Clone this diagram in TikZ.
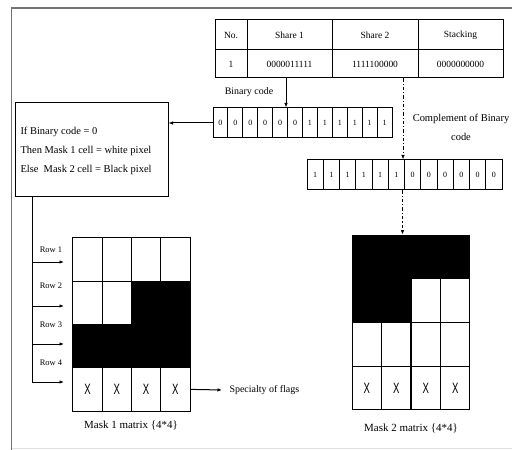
\documentclass[tikz,border=0pt]{standalone}
\usepackage{fontspec}
\setmainfont{Liberation Serif}
\newfontfamily\xfont{Liberation Sans}
\usetikzlibrary{arrows.meta}
\newcommand{\flagx}{\scalebox{0.8}[1.25]{X}}
\begin{document}
\begin{tikzpicture}[x=1bp,y=-1bp,
  line width=1bp,
  arr/.style={-{Latex[length=4.5bp,width=3.5bp]}, line width=1bp},
  dashdot/.style={dash pattern=on 3.5bp off 2bp on 1bp off 2bp},
  txt/.style={font=\fontsize{10}{12}\selectfont, inner sep=1bp},
  tcell/.style={draw, inner sep=0, font=\fontsize{9.5}{11}\selectfont},
  bcell/.style={draw, inner sep=0, minimum width=14.92bp, minimum height=30bp, font=\fontsize{8}{9}\selectfont},
  ccell/.style={draw, inner sep=0, minimum width=16.25bp, minimum height=30bp, font=\fontsize{8}{9}\selectfont},
  mcell/.style={draw, inner sep=0, minimum width=29.3bp, minimum height=43.5bp, font=\xfont\fontsize{12}{12}\selectfont},
  blk/.style={mcell, fill=black},
  rowlab/.style={font=\fontsize{8.5}{10}\selectfont, inner sep=0},
]
\useasboundingbox (0,0) rectangle (512,450);

% page frame
\draw[black!55, line width=1.5bp] (512,8) -- (11.5,8) -- (11.5,450);
\draw[black!12, line width=0.8bp] (12,448) -- (512,448);

% share table
\node[tcell, minimum width=32bp, minimum height=30bp] (hno) at (231,35) {No.};
\node[tcell, minimum width=85bp, minimum height=30bp] (hs1) at (289.5,35) {Share 1};
\node[tcell, minimum width=86bp, minimum height=30bp] (hs2) at (375,35) {Share 2};
\node[tcell, minimum width=85bp, minimum height=30bp] (hst) at (460.5,35) {Stacking};
\node[tcell, minimum width=32bp, minimum height=28bp] (vno) at (231,64) {1};
\node[tcell, minimum width=85bp, minimum height=28bp] (vs1) at (289.5,64) {0000011111};
\node[tcell, minimum width=86bp, minimum height=28bp] (vs2) at (375,64) {1111100000};
\node[tcell, minimum width=85bp, minimum height=28bp] (vst) at (460.5,64) {0000000000};

% binary code row
\foreach \v [count=\i] in {0,0,0,0,0,0,1,1,1,1,1,1}
  \node[bcell] (b\i) at (213+14.92*\i-7.46,123) {\v};
\node[txt] (blab) at (249,92) {Binary code};

% complement row
\foreach \v [count=\i] in {1,1,1,1,1,1,0,0,0,0,0,0}
  \node[ccell] (c\i) at (307+16.25*\i-8.125,175) {\v};
\node[txt, align=center, font=\fontsize{10.5}{19}\selectfont] (clab) at (461,127) {Complement of Binary\\code};

% decision box
\node[draw, minimum width=152bp, minimum height=94bp] (dec) at (92,150) {};
\node[txt, anchor=west, align=left, font=\fontsize{10.5}{19}\selectfont] (rule) at (19,151)
  {If Binary code = 0\\Then Mask 1 cell = white pixel\\Else\ \ Mask 2 cell = Black pixel};

% mask 1 matrix
\foreach \r/\row in {1/{0,0,0,0},2/{0,0,1,1},3/{1,1,1,1}}
  \foreach \s [count=\c] in \row {
    \ifnum\s=1
      \node[blk] (p\r\c) at (73+29.25*\c-14.625,238+43.25*\r-21.625) {};
    \else
      \node[mcell] (p\r\c) at (73+29.25*\c-14.625,238+43.25*\r-21.625) {};
    \fi
  }
\foreach \c in {1,2,3,4}
  \node[mcell] (p4\c) at (73+29.25*\c-14.625,238+43.25*4-21.625) {\flagx};
\node[txt, font=\fontsize{11}{13}\selectfont] (m1lab) at (131,425) {Mask 1 matrix \{4*4\}};

% mask 2 matrix
\foreach \r/\row in {1/{1,1,1,1},2/{1,1,0,0},3/{0,0,0,0}}
  \foreach \s [count=\c] in \row {
    \ifnum\s=1
      \node[blk] (q\r\c) at (352+29.5*\c-14.75,235+43.75*\r-21.875) {};
    \else
      \node[mcell] (q\r\c) at (352+29.5*\c-14.75,235+43.75*\r-21.875) {};
    \fi
  }
\foreach \c in {1,2,3,4}
  \node[mcell] (q4\c) at (352+29.5*\c-14.75,235+43.75*4-21.875) {\flagx};
\node[txt, font=\fontsize{11}{13}\selectfont] (m2lab) at (411,428) {Mask 2 matrix \{4*4\}};

% connectors from the table
\draw[arr] ([xshift=-3.5bp]vs1.south) -- ([xshift=-3.5bp]vs1.south |- b5.north);
\draw[arr] (b1.west) -- (b1.west -| dec.east);
\draw[arr, dashdot] ([xshift=28bp]vs2.south) -- ([xshift=28bp]vs2.south |- c7.north);
\draw[arr, dashdot] ([xshift=-1.5bp]c7.south west) -- ([xshift=-1.5bp]c7.south west |- q12.north);

% row feed lines into mask 1
\coordinate (trunk) at ([xshift=17bp]dec.south west);
\coordinate (r1) at (64,262);
\coordinate (r2) at (64,306);
\coordinate (r3) at (64,344);
\coordinate (r4) at (64,382);
\draw (trunk) -- (trunk |- r4);
\foreach \k in {1,2,3,4}
  \draw[arr] (trunk |- r\k) -- (r\k);
\node[rowlab] (l1) at (51,250) {Row 1};
\node[rowlab] (l2) at (51,286) {Row 2};
\node[rowlab] (l3) at (51,325) {Row 3};
\node[rowlab] (l4) at (51,363) {Row 4};

% flag row
\node[txt, anchor=west] (spec) at (228,390) {Specialty of flags};
\draw[arr] (p44.east) -- ([xshift=-6bp]spec.west);
\end{tikzpicture}
\end{document}
